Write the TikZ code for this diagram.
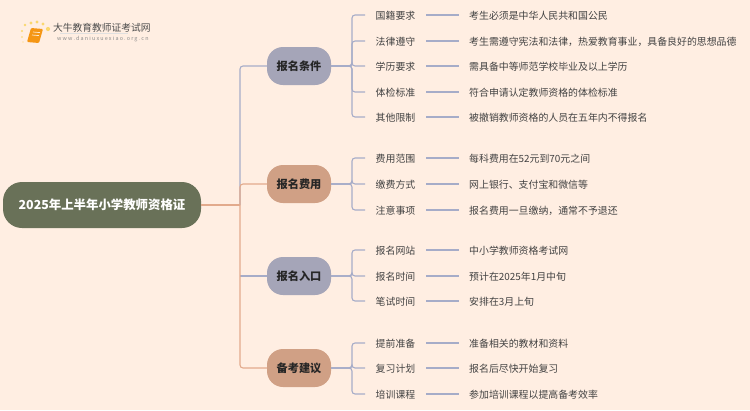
\documentclass[tikz,border=0pt]{standalone}
\usepackage{fontspec}
\usepackage{tikz}
\usetikzlibrary{arrows.meta,positioning,calc,fit,shapes.geometric}
\setmainfont{Noto Sans CJK SC}
\definecolor{mapPaper}{RGB}{255, 238, 226}
\definecolor{mapRoot}{RGB}{105, 113, 88}
\definecolor{mapGrey}{RGB}{165, 165, 184}
\definecolor{mapTan}{RGB}{208, 160, 133}
\definecolor{mapLine}{RGB}{166, 172, 200}
\definecolor{mapSalmon}{RGB}{226, 170, 140}
\definecolor{mapInk}{RGB}{66, 66, 66}
\definecolor{mapGold}{RGB}{250, 215, 110}
\definecolor{mapBook}{RGB}{245, 150, 20}
\tikzset{
  x=1pt,y=-1pt,
  rootnode/.style={fill=mapRoot, text=white, rounded corners=19pt, minimum width=198pt, minimum height=46pt, inner sep=0pt, font=\fontsize{12.4pt}{14pt}\selectfont\bfseries},
  topicnode/.style={rounded corners=16pt, minimum width=64pt, minimum height=38pt, inner sep=0pt, text=black!85, font=\fontsize{11.2pt}{13pt}\selectfont\bfseries},
  itemnode/.style={text=mapInk, inner sep=0pt, minimum width=39pt, minimum height=12pt, font=\fontsize{9.9pt}{11pt}\selectfont},
  infonode/.style={text=mapInk, inner sep=0pt, anchor=west, minimum height=12pt, font=\fontsize{9.9pt}{11pt}\selectfont},
  bondline/.style={draw=mapLine, line width=1.1pt},
  rootline/.style={draw=mapSalmon, line width=1.1pt},
}
\begin{document}
\begin{tikzpicture}
  \fill[mapPaper] (0,0) rectangle (750,410);
  \useasboundingbox (0,0) rectangle (750,410);
  % logo
  \foreach \px/\py/\pr in {23/42/.6,22/37/.8,22/31/1.1,25/25/1.3,31/23/1.6,37/22/1.7,43/24/1.7,48/29/2.1}
    \fill[mapGold] (\px,\py) circle (\pr);
  \fill[mapBook, rounded corners=1pt] (31,28) -- (43,29) -- (39,43) -- (27,42) -- cycle;
  \draw[white!80!mapBook, line width=.7pt] (33,32) -- (40,32.6) (32,35) -- (39,35.6);
  \node[anchor=west, inner sep=0pt, text=black!70, font=\fontsize{9.75pt}{11pt}\selectfont] (logotitle) at (53,27.5) {大牛教育教师证考试网};
  \draw[black!12, line width=.8pt] (60,33.5) -- (128,33.5);
  \node[anchor=west, inner sep=0pt, text=black!45, font=\fontsize{5.4pt}{6pt}\selectfont\addfontfeature{LetterSpace=22}] (logourl) at (57,39) {www.daniuxuexiao.org.cn};
  % root and topics
  \node[rootnode] (root) at (102,205) {2025年上半年小学教师资格证};
  \node[topicnode, fill=mapGrey] (condition) at (299,66) {报名条件};
  \node[topicnode, fill=mapTan] (fee) at (299,184) {报名费用};
  \node[topicnode, fill=mapGrey] (entry) at (299,276) {报名入口};
  \node[topicnode, fill=mapTan] (advice) at (299,368) {备考建议};
  \coordinate (trunk) at (240,205);
  \draw[bondline, rounded corners=3pt] (trunk) |- (condition.west);
  \draw[bondline] (trunk|-entry.west) -- (entry.west);
  \draw[rootline, rounded corners=3pt] (trunk) |- (advice.west);
  \draw[rootline] (root.east) -- (trunk);
  \draw[rootline, rounded corners=3pt] (trunk) |- (fee.west);
  % leaves
  \foreach \topic/\name/\ypos/\label/\detail in {
    condition/a/15/国籍要求/考生必须是中华人民共和国公民,
    condition/b/41/法律遵守/考生需遵守宪法和法律，热爱教育事业，具备良好的思想品德,
    condition/c/66/学历要求/需具备中等师范学校毕业及以上学历,
    condition/d/92/体检标准/符合申请认定教师资格的体检标准,
    condition/e/117/其他限制/被撤销教师资格的人员在五年内不得报名,
    fee/f/158/费用范围/每科费用在52元到70元之间,
    fee/g/184/缴费方式/网上银行、支付宝和微信等,
    fee/h/210/注意事项/报名费用一旦缴纳，通常不予退还,
    entry/i/250/报名网站/中小学教师资格考试网,
    entry/j/276/报名时间/预计在2025年1月中旬,
    entry/k/301/笔试时间/安排在3月上旬,
    advice/l/343/提前准备/准备相关的教材和资料,
    advice/m/368/复习计划/报名后尽快开始复习,
    advice/n/394/培训课程/参加培训课程以提高备考效率}{
    \node[itemnode] (item\name) at (395.5,\ypos+.6) {\label};
    \node[infonode] (info\name) at (469,\ypos+.6) {\detail};
    \coordinate (fork\name) at (352,\ypos);
    \coordinate (stub\name) at (365,\ypos);
    \coordinate (linka\name) at (426,\ypos);
    \coordinate (linkb\name) at (459,\ypos);
    \draw[bondline, rounded corners=3pt] (\topic.east) -- (\topic.east-|fork\name) -- (fork\name) -- (stub\name);
    \draw[bondline] (linka\name) -- (linkb\name);
  }
\end{tikzpicture}
\end{document}
